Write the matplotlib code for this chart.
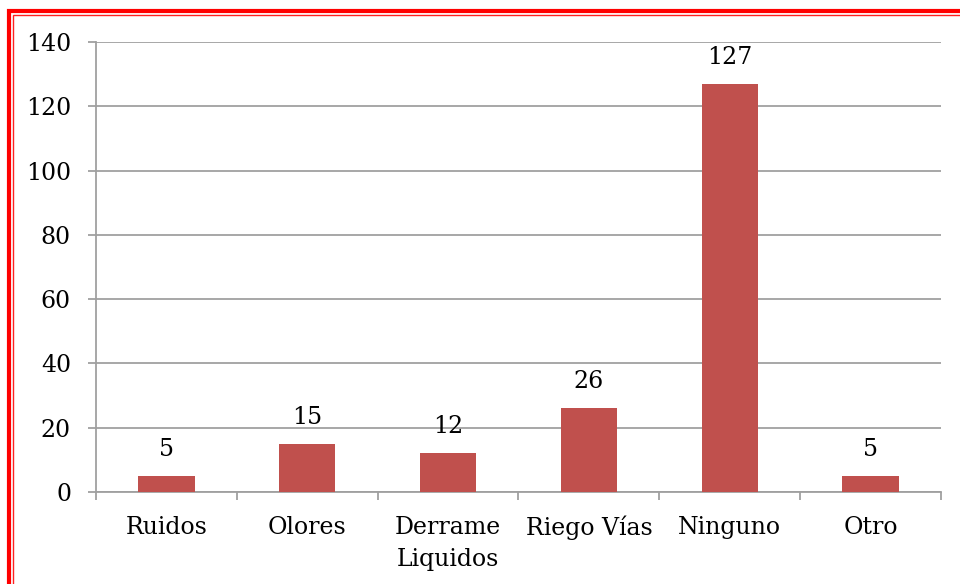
import matplotlib
matplotlib.use("Agg")
import matplotlib.pyplot as plt
from matplotlib.patches import Rectangle

categories = ["Ruidos", "Olores", "Derrame\nLiquidos", "Riego Vías", "Ninguno", "Otro"]
values = [5, 15, 12, 26, 127, 5]
y_ticks = [0, 20, 40, 60, 80, 100, 120, 140]

plt.rcParams["font.family"] = ["DejaVu Serif"]

fig = plt.figure(figsize=(9.6, 5.84), dpi=100, facecolor="white")
ax = fig.add_axes([96 / 960, 1 - 492 / 584, 845 / 960, 450 / 584])

x = range(len(categories))
ax.bar(x, values, width=0.4, color="#C0504D", zorder=3)

for xi, v in zip(x, values):
    ax.annotate(str(v), (xi, v), xytext=(0, 11), textcoords="offset points",
                ha="center", va="bottom", fontsize=17, color="black")

ax.set_xlim(-0.5, len(categories) - 0.5)
ax.set_ylim(0, 140)
ax.set_yticks(y_ticks)
ax.set_yticklabels([str(t) for t in y_ticks], fontsize=17)
ax.grid(axis="y", color="#A0A0A0", linewidth=1.3, zorder=0)

ax.set_xticks([i - 0.5 for i in range(len(categories) + 1)], minor=False)
ax.set_xticklabels([])
ax.set_xticks(list(x), minor=True)
ax.set_xticklabels(categories, minor=True, fontsize=17, linespacing=1.5)
ax.tick_params(axis="x", which="major", length=6, width=1.3, color="#A0A0A0")
ax.tick_params(axis="x", which="minor", length=0, pad=17)
ax.tick_params(axis="y", length=6, width=1.3, color="#A0A0A0", pad=12)

for side in ["top", "right"]:
    ax.spines[side].set_visible(False)
for side in ["left", "bottom"]:
    ax.spines[side].set_color("#A0A0A0")
    ax.spines[side].set_linewidth(1.3)

# red double border (only top and left are inside the picture)
W, H = 960, 584
fig.patches.append(Rectangle((8.5 / W, -0.1), 1.2, (H - 10.5) / H + 0.1,
                             transform=fig.transFigure, fill=False,
                             edgecolor="#FF0000", linewidth=3.0))
fig.patches.append(Rectangle((13 / W, -0.1), 1.2, (H - 15) / H + 0.1,
                             transform=fig.transFigure, fill=False,
                             edgecolor="#FF2020", linewidth=1.0))

fig.savefig("out.png", dpi=100, facecolor="white")
